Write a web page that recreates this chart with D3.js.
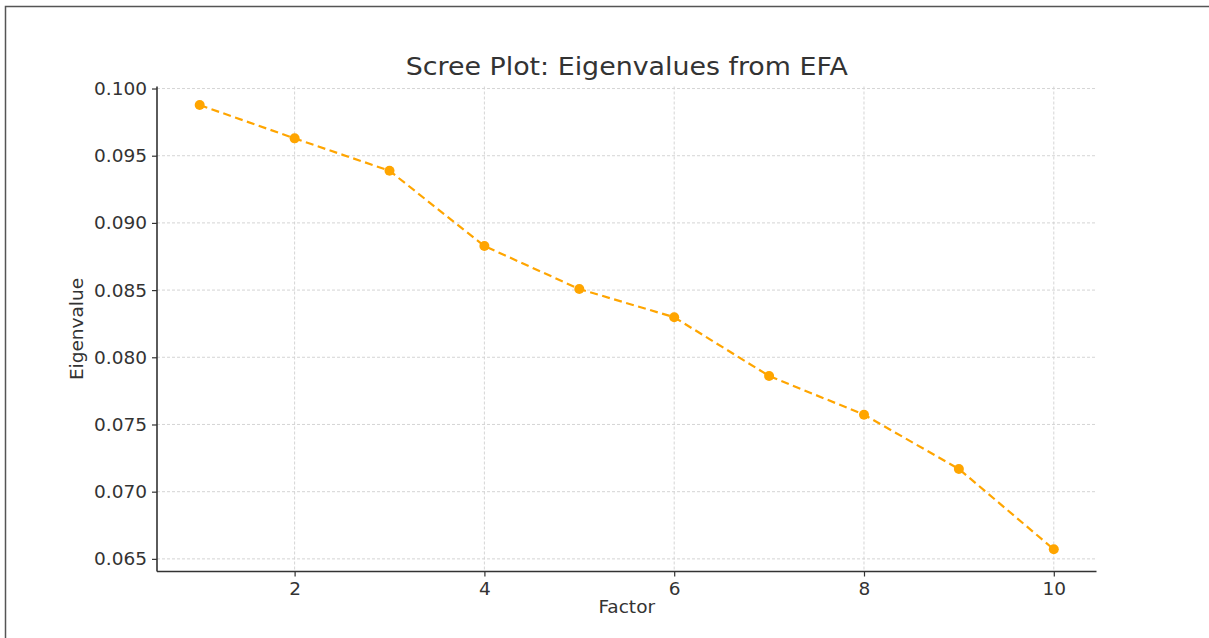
<!DOCTYPE html>
<html><head><meta charset="utf-8">
<script src="https://cdn.jsdelivr.net/npm/d3@7"></script>
<style>body{margin:0;background:#fff}svg{display:block}text{font-family:"DejaVu Sans",sans-serif;fill:#333}</style>
</head><body><svg id="c" width="1209" height="638"></svg>
<script>
const factors = [1,2,3,4,5,6,7,8,9,10];
const eigenvalues = [0.09877,0.09629,0.09388,0.08828,0.08508,0.08298,0.07861,0.07573,0.07169,0.06571];
const xTicks = [2,4,6,8,10];
const yTicks = [0.065,0.070,0.075,0.080,0.085,0.090,0.095,0.100];
const title = "Scree Plot: Eigenvalues from EFA";
const xLabel = "Factor", yLabel = "Eigenvalue";

const svg = d3.select("#c");
const L=157, R=1096.5, T=86.5, B=571.5;
const x = d3.scaleLinear().domain([0.55,10.45]).range([L,R]);
const y = d3.scaleLinear().domain([0.06406,0.10015]).range([B,T]);

// outer frame (left + top)
svg.append("path").attr("d","M5.5,638V6.5H1209").attr("fill","none").attr("stroke","#555").attr("stroke-width",1.5);

// grid
const g = svg.append("g");
g.selectAll(".gx").data(xTicks).join("line").attr("x1",d=>x(d)).attr("x2",d=>x(d)).attr("y1",T).attr("y2",B)
 .attr("stroke","#d0d0d0").attr("stroke-width",0.9).attr("stroke-dasharray","3,2");
g.selectAll(".gy").data(yTicks).join("line").attr("y1",d=>y(d)).attr("y2",d=>y(d)).attr("x1",L).attr("x2",R)
 .attr("stroke","#d0d0d0").attr("stroke-width",0.9).attr("stroke-dasharray","3,2");

// axes
const xa = svg.append("g").attr("transform",`translate(0,${B})`)
 .call(d3.axisBottom(x).tickValues(xTicks).tickSize(5).tickPadding(5).tickFormat(d3.format("d")));
const ya = svg.append("g").attr("transform",`translate(${L},0)`)
 .call(d3.axisLeft(y).tickValues(yTicks).tickSize(5).tickPadding(5).tickFormat(d3.format(".3f")));
[xa,ya].forEach(a=>{
  a.select(".domain").attr("stroke","#333").attr("stroke-width",1.6).attr("d", a===xa?`M${L},0H${R}`:`M0,${T}V${B}`);
  a.selectAll(".tick line").attr("stroke","#333").attr("stroke-width",1.2);
  a.selectAll("text").attr("font-size",18.5).attr("fill","#333").attr("font-family","DejaVu Sans");
});

// line + markers
svg.append("path").datum(factors.map((f,i)=>[f,eigenvalues[i]]))
 .attr("d",d3.line().x(d=>x(d[0])).y(d=>y(d[1])))
 .attr("fill","none").attr("stroke","#FFA500").attr("stroke-width",2.2).attr("stroke-dasharray","8,4.5");
svg.selectAll(".pt").data(factors).join("circle")
 .attr("cx",d=>x(d)).attr("cy",(d,i)=>y(eigenvalues[i])).attr("r",5).attr("fill","#FFA500");

// labels
svg.append("text").attr("x",(L+R)/2).attr("y",75).attr("text-anchor","middle").attr("font-size",24.5)
 .attr("textLength",442).attr("lengthAdjust","spacingAndGlyphs").text(title);
svg.append("text").attr("x",(L+R)/2).attr("y",613).attr("text-anchor","middle").attr("font-size",18.5).text(xLabel);
svg.append("text").attr("transform",`translate(83,${(T+B)/2}) rotate(-90)`).attr("text-anchor","middle").attr("font-size",18.5).text(yLabel);
</script></body></html>
